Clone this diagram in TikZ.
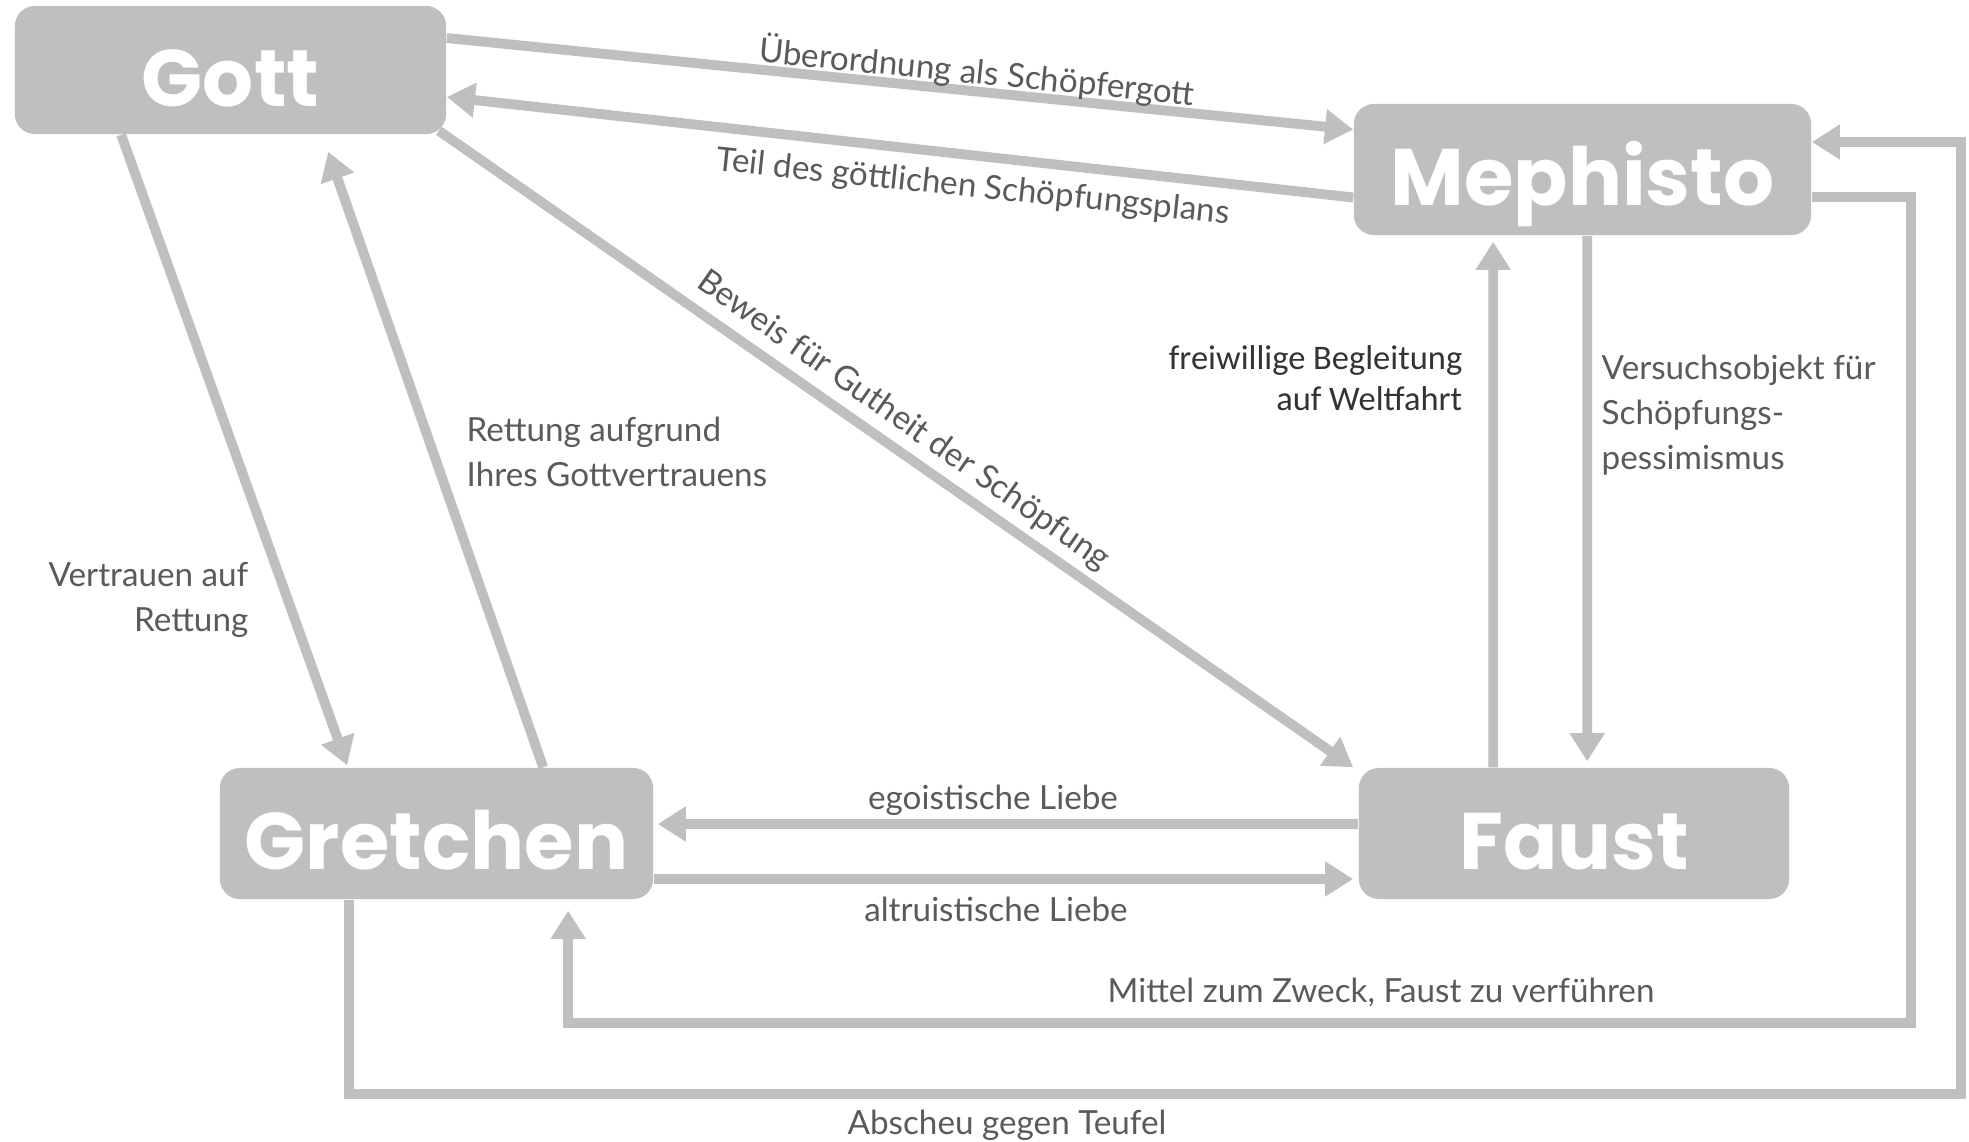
\documentclass[tikz,border=0pt]{standalone}
\usepackage{fontspec}
\setmainfont{Lato}
\newfontfamily\boxfont{Poppins}
\newfontfamily\calfont{Carlito}
\usetikzlibrary{arrows.meta,calc}
\definecolor{boxgray}{HTML}{BFBFBF}
\definecolor{txtgray}{HTML}{5A5A5A}
\definecolor{caltxt}{HTML}{333333}
\begin{document}
\begin{tikzpicture}[x=0.01cm,y=-0.01cm,
  box/.style={fill=boxgray, rounded corners=0.2cm, text=white, inner sep=0pt,
    font=\boxfont\bfseries\fontsize{22.8}{27}\selectfont, text height=20.5pt, text depth=0pt},
  conn/.style={draw=boxgray, line width=2.8pt, -{Triangle[width=9.5pt,length=8pt]}},
  lbl/.style={text=txtgray, inner sep=0pt, font=\fontsize{9.45}{12.8}\selectfont},
  clbl/.style={text=caltxt, inner sep=0pt, font=\calfont\fontsize{9.8}{11.7}\selectfont}]
\useasboundingbox (0,0) rectangle (1969,1141);
\fill[white] (0,0) rectangle (1969,1141);

% boxes
\node[box, minimum width=4.31cm, minimum height=1.28cm] (gott) at (230.5,70) {Gott};
\node[box, minimum width=4.57cm, minimum height=1.31cm] (meph) at (1582.5,169.5) {Mephisto};
\node[box, minimum width=4.33cm, minimum height=1.31cm] (gret) at (436.5,833.5) {Gretchen};
\node[box, minimum width=4.30cm, minimum height=1.31cm] (faust) at (1574,833.5) {Faust};

\coordinate (c1) at (1911,1023);
\coordinate (c2) at (1961,1094);

% connectors
\draw[conn] ($(gott.east)+(0,-32)$) -- ($(meph.west)+(0,-40)$);
\draw[conn] ($(meph.west)+(0,28)$) -- ($(gott.east)+(0,27)$);
\draw[conn] ($(gott.south east)+(-8,-4)$) -- ($(faust.north west)+(-5,0)$);
\draw[conn] ($(gott.south west)+(107,0)$) -- ($(gret.north west)+(128,-2)$);
\draw[conn] ($(gret.north west)+(324,0)$) -- ($(gott.south west)+(314,17)$);
\draw[conn] ($(faust.north west)+(135,0)$) -- ($(meph.south west)+(140,6)$);
\draw[conn] ($(meph.south west)+(234,0)$) -- ($(faust.north west)+(229,-6)$);
\draw[conn] ($(faust.west)+(0,-9.5)$) -- ($(gret.east)+(4,-9.5)$);
\draw[conn] ($(gret.east)+(0,45.5)$) -- ($(faust.west)+(-5,45.5)$);
\draw[conn] ($(meph.east)+(0,27.5)$) -| (c1) -| ($(gret.south west)+(349,11)$);
\draw[conn] ($(gret.south west)+(130,0)$) |- (c2) |- ($(meph.east)+(0,-27.5)$);

% labels
\node[lbl, rotate=-5.7] (l1) at (977,72) {Überordnung als Schöpfergott};
\node[lbl, rotate=-6] (l2) at (973,188) {Teil des göttlichen Schöpfungsplans};
\node[lbl, rotate=-35] (l3) at (903,421) {Beweis für Gutheit der Schöpfung};
\node[lbl, anchor=east, align=right] (l4) at (249,600) {Vertrauen auf\\Rettung};
\node[lbl, anchor=west, align=left] (l5) at (466,452) {Rettung aufgrund\\Ihres Gottvertrauens};
\node[clbl, anchor=east, align=right] (l6) at (1463,378) {freiwillige Begleitung\\auf Weltfahrt};
\node[lbl, anchor=west, align=left] (l7) at (1601,415) {Versuchsobjekt für\\Schöpfungs-\\pessimismus};
\node[lbl] (l8) at (993,800) {egoistische Liebe};
\node[lbl] (l9) at (996,909) {altruistische Liebe};
\node[lbl] (l10) at (1381,992) {Mittel zum Zweck, Faust zu verführen};
\node[lbl] (l11) at (1007,1125) {Abscheu gegen Teufel};
\end{tikzpicture}
\end{document}
